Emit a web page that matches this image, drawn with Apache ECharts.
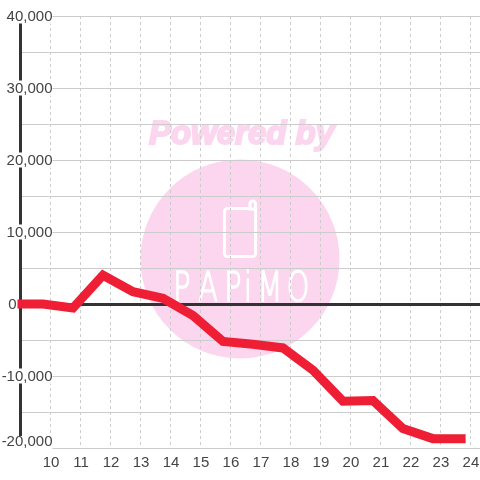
<!DOCTYPE html>
<html>
<head>
<meta charset="utf-8">
<style>
html, body { margin: 0; padding: 0; background: #fff; }
#chart { width: 480px; height: 480px; }
</style>
<script src="https://cdn.jsdelivr.net/npm/echarts@6/dist/echarts.min.js"></script>
</head>
<body>
<div id="chart"></div>
<script>
var hours = [8.9, 9.75, 10.75, 11.75, 12.75, 13.75, 14.75, 15.75, 16.75, 17.75, 18.75, 19.75, 20.75, 21.75, 22.75, 23.84];
var values = [0, 0, -550, 4000, 1700, 800, -1600, -5200, -5600, -6100, -9200, -13500, -13400, -17300, -18700, -18700];
var xTicks = [10, 11, 12, 13, 14, 15, 16, 17, 18, 19, 20, 21, 22, 23, 24];
var yTicks = [-20000, -10000, 0, 10000, 20000, 30000, 40000];
var logoLetters = ['P', 'A', 'P', 'i', 'M', 'O'];
var logoLetterX = [182, 208, 233, 248, 270, 298];

var points = [];
for (var i = 0; i < hours.length; i++) {
    points.push([hours[i], values[i]]);
}

var pink = '#fbd6ee';
var fontName = '"Liberation Sans", Arial, sans-serif';

var watermark = [
    {type: 'circle', z: -10, shape: {cx: 240, cy: 259, r: 99.5}, style: {fill: pink}},
    {
        type: 'text', z: -10, x: 241.5, y: 135,
        style: {
            text: 'Powered by', fill: pink, stroke: pink, lineWidth: 2,
            font: 'italic bold 33px ' + fontName, align: 'center', verticalAlign: 'middle'
        }
    },
    {
        type: 'rect', z: -9,
        shape: {x: 224.5, y: 208.5, width: 31, height: 48, r: 3},
        style: {fill: 'none', stroke: '#fff', lineWidth: 3}
    },
    {
        type: 'rect', z: -9,
        shape: {x: 250, y: 201, width: 5.5, height: 8, r: [3, 3, 0, 0]},
        style: {fill: pink, stroke: '#fff', lineWidth: 3}
    }
];
for (var j = 0; j < logoLetters.length; j++) {
    watermark.push({
        type: 'text', z: -9, x: logoLetterX[j], y: 290, scaleX: 0.7,
        style: {
            text: logoLetters[j], fill: '#fff', stroke: '#fff', lineWidth: 1.5,
            font: '200 41px "DejaVu Sans"', align: 'center', verticalAlign: 'middle'
        }
    });
}

var myChart = echarts.init(document.getElementById('chart'), null, {renderer: 'canvas'});

var option = {
    animation: false,
    backgroundColor: '#fff',
    grid: {left: 20.5, right: 0, top: 16, bottom: 32, outerBoundsMode: 'none'},
    graphic: watermark,
    xAxis: {
        type: 'value',
        min: 9,
        max: 24.32,
        interval: 1,
        axisLine: {onZero: true, lineStyle: {color: '#333', width: 3}},
        axisTick: {show: false},
        axisLabel: {
            margin: 0, padding: [7, 0, 0, 1], fontSize: 15, color: '#444', fontFamily: 'Liberation Sans',
            showMinLabel: false, showMaxLabel: false,
            formatter: function (v) { return xTicks.indexOf(v) != -1 ? String(v) : ''; }
        },
        splitLine: {show: true, lineStyle: {color: '#ccc', width: 1, type: [3, 3]}}
    },
    yAxis: {
        type: 'value',
        min: -20000,
        max: 40000,
        interval: 5000,
        axisLine: {show: true, lineStyle: {color: '#333', width: 3}},
        axisTick: {show: false},
        axisLabel: {
            inside: true, margin: -20, fontSize: 15, color: '#444', fontFamily: 'Liberation Sans',
            formatter: function (v) {
                if (yTicks.indexOf(v) == -1) return '';
                if (v == 0) return '{zero|0}';
                if (v == -20000) return '{low|' + echarts.format.addCommas(v) + '}';
                return '{num|' + echarts.format.addCommas(v) + '}';
            },
            rich: {
                num: {fontSize: 15, color: '#444', backgroundColor: '#fff', width: 52, height: 13, lineHeight: 13, align: 'right', padding: [2, 0, 0, 0]},
                low: {fontSize: 15, color: '#444', backgroundColor: '#fff', width: 52, height: 12, lineHeight: 12, align: 'right', padding: [0, 0, 12, 0]},
                zero: {fontSize: 15, color: '#444', width: 16, align: 'right', padding: [2, 0, 0, 0]}
            }
        },
        splitLine: {show: true, lineStyle: {color: '#ccc', width: 1}}
    },
    series: [{
        type: 'line',
        data: points,
        clip: false,
        showSymbol: false,
        silent: true,
        z: 5,
        lineStyle: {color: '#ee1f35', width: 9, cap: 'butt', join: 'miter'}
    }]
};

myChart.setOption(option);
</script>
</body>
</html>
